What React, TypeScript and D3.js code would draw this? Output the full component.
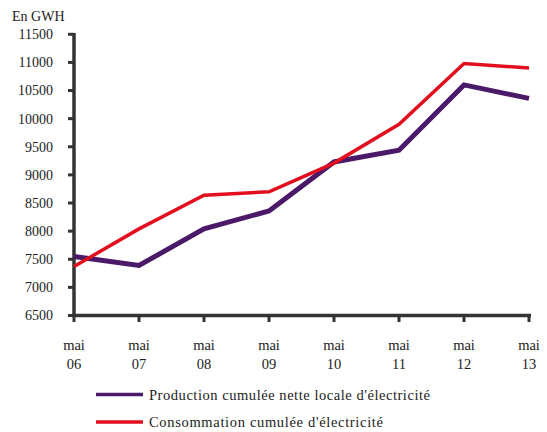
import React from "react";
import * as d3 from "d3";

const categories = ["06", "07", "08", "09", "10", "11", "12", "13"];
const production = [7550, 7390, 8040, 8360, 9230, 9440, 10600, 10360];
const consommation = [7370, 8040, 8640, 8700, 9210, 9900, 10980, 10900];
const yTicks = [6500, 7000, 7500, 8000, 8500, 9000, 9500, 10000, 10500, 11000, 11500];
const seriesNames = ["Production cumulée nette locale d'électricité", "Consommation cumulée d'électricité"];

const W = 547;
const H = 432;
const FONT = "'Liberation Serif', 'DejaVu Serif', serif";

export default function App() {
  const x = d3.scalePoint<string>().domain(categories).range([74, 529]);
  const y = d3.scaleLinear().domain([6500, 11500]).range([315.5, 34.3]);
  const line = d3
    .line<number>()
    .x((_, i) => x(categories[i]) as number)
    .y((d) => y(d));
  const axisColor = "#333333";
  const purple = "#4a1a68";
  const red = "#e2101f";

  return (
    <svg
      width={W}
      height={H}
      style={{ position: "absolute", left: 0, top: 0, background: "#fff" }}
      fontFamily={FONT}
    >
      <text x={12} y={21} fontSize={14} fill="#222">En GWH</text>
      {yTicks.map((t) => (
        <g key={t}>
          <line x1={68} x2={74} y1={y(t)} y2={y(t)} stroke={axisColor} strokeWidth={3} />
          <text x={53} y={y(t)} dy="0.35em" textAnchor="end" fontSize={14} fill="#222">
            {t}
          </text>
        </g>
      ))}
      {categories.map((c) => (
        <g key={c}>
          <line x1={x(c)} x2={x(c)} y1={315.5} y2={322} stroke={axisColor} strokeWidth={3} />
          <text x={x(c)} y={345} dy="0.35em" textAnchor="middle" fontSize={14.5} fill="#222">mai</text>
          <text x={x(c)} y={364} dy="0.35em" textAnchor="middle" fontSize={14.5} fill="#222">{c}</text>
        </g>
      ))}
      <line x1={74} x2={74} y1={33} y2={317} stroke={axisColor} strokeWidth={3.5} />
      <line x1={72.5} x2={531} y1={315.5} y2={315.5} stroke={axisColor} strokeWidth={3.5} />
      <path d={line(production) || ""} fill="none" stroke={purple} strokeWidth={5} strokeLinejoin="miter" />
      <path d={line(consommation) || ""} fill="none" stroke={red} strokeWidth={3.5} strokeLinejoin="miter" />
      <line x1={96} x2={143} y1={394.5} y2={394.5} stroke={purple} strokeWidth={3.5} />
      <text x={149} y={394.5} dy="0.35em" fontSize={14.5} fill="#222" textLength={281} lengthAdjust="spacing">{seriesNames[0]}</text>
      <line x1={96} x2={143} y1={422} y2={422} stroke={red} strokeWidth={3.5} />
      <text x={149} y={422} dy="0.35em" fontSize={14.5} fill="#222" textLength={234} lengthAdjust="spacing">{seriesNames[1]}</text>
    </svg>
  );
}
